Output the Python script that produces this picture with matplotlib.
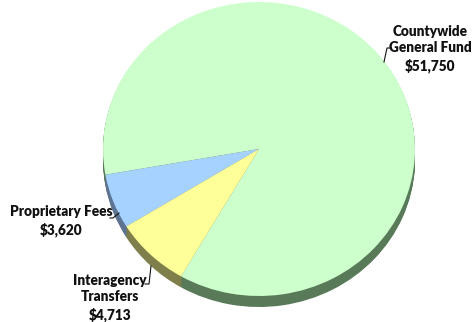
import matplotlib.pyplot as plt
from matplotlib.lines import Line2D

# data
labels = ["Countywide\nGeneral Fund", "Proprietary Fees", "Interagency\nTransfers"]
values = [51750, 3620, 4713]
top_colors = ["#ccffcc", "#a6d2ff", "#ffff99"]
side_colors = ["#587a58", "#5c7392", "#7f7f4c"]

W, H = 475, 322
cx, cy = 259, 149      # pie centre in pixels
rx, ry = 156, 147      # radii in pixels
depth = 11             # pixels of side

fig = plt.figure(figsize=(W / 100, H / 100), dpi=100)
ax = fig.add_axes([0, 0, 1, 1])
ax.axis('off')


def px(x, y):
    return x / W, 1 - y / H


# side of the pie, stacked copies shifted down
n = 12
for i in range(n, 0, -1):
    off = -depth / ry * i / n
    ax.pie(values, colors=side_colors, startangle=240, counterclock=True,
           center=(0, off), radius=1, wedgeprops=dict(linewidth=0))

# top face
ax.pie(values, colors=top_colors, startangle=240, counterclock=True,
       center=(0, 0), radius=1, wedgeprops=dict(linewidth=0))

ax.set_aspect('auto')
ax.set_xlim(-cx / rx, (W - cx) / rx)
ax.set_ylim(-(H - cy) / ry, cy / ry)

font = dict(family=['Lato', 'DejaVu Sans'], fontweight='heavy', fontsize=9.8,
            color='#111111', ha='center', va='center', linespacing=1.3)

fig.text(*px(430, 49), labels[0] + "\n$" + f"{values[0]:,}", **font)
fig.text(*px(61, 221), labels[1] + "\n$" + f"{values[1]:,}", **font)
fig.text(*px(110, 298), labels[2] + "\n$" + f"{values[2]:,}", **font)

leaders = [
    [(391, 48), (387, 48), (384, 62)],
    [(110, 218), (113, 218), (119, 213)],
    [(145, 284), (149, 284), (151, 266)],
]
for pts in leaders:
    xs = [px(x, y)[0] for x, y in pts]
    ys = [px(x, y)[1] for x, y in pts]
    fig.add_artist(Line2D(xs, ys, color='#111111', linewidth=0.8))

fig.savefig("out.png", dpi=100)
